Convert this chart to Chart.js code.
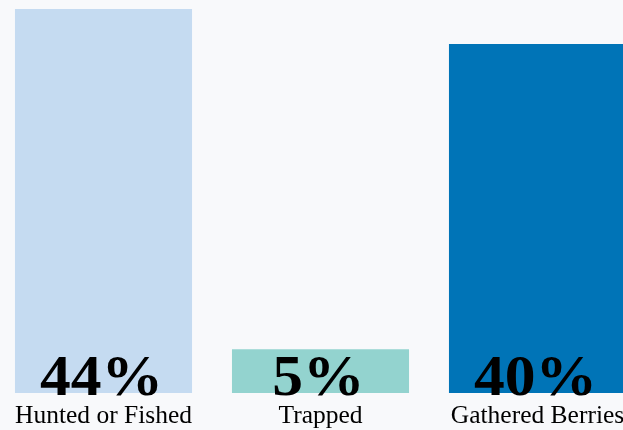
<!DOCTYPE html>
<html>
<head>
<meta charset="utf-8">
<script src="https://cdn.jsdelivr.net/npm/chart.js@4/dist/chart.umd.min.js"></script>
<style>
	html, body { margin: 0; padding: 0; background: #f8f9fb; overflow: hidden; width: 623px; height: 430px; }
	#chart { position: absolute; left: -5px; top: 0; }
</style>
</head>
<body>
<canvas id="chart" width="651" height="430"></canvas>
<script>
const categories = ['Hunted or Fished', 'Trapped', 'Gathered Berries'];
const values = [44, 5, 40];
const colors = ['#c5dbf1', '#93d3cf', '#0074b7'];

// big percent labels sitting on the bottom of each bar
const percentLabels = {
	id: 'percentLabels',
	afterDatasetsDraw(chart) {
		const ctx = chart.ctx;
		const meta = chart.getDatasetMeta(0);
		ctx.save();
		ctx.fillStyle = '#000';
		ctx.textAlign = 'center';
		ctx.textBaseline = 'alphabetic';
		ctx.font = 'bold 57px "Liberation Serif"';
		meta.data.forEach(function(bar, i) {
			ctx.save();
			ctx.translate(bar.x - 2, bar.base + 2);
			ctx.scale(1.08, 1);
			ctx.fillText(values[i] + '%', 0, 0);
			ctx.restore();
		});
		ctx.restore();
	}
};

const ctx = document.getElementById('chart').getContext('2d');
const chart = new Chart(ctx, {
	type: 'bar',
	data: {
		labels: categories,
		datasets: [{
			data: values,
			backgroundColor: colors,
			borderWidth: 0,
			categoryPercentage: 1,
			barPercentage: 0.816
		}]
	},
	options: {
		responsive: false,
		animation: false,
		layout: { padding: { top: 9, left: 0, right: 0, bottom: 0 } },
		plugins: {
			legend: { display: false },
			tooltip: { enabled: false }
		},
		scales: {
			x: {
				grid: { display: false },
				border: { display: false },
				ticks: {
					color: '#000',
					font: { family: 'Liberation Serif', size: 25.5 },
					padding: 0,
					maxRotation: 0
				},
				afterFit: function(scale) { scale.height = 37; }
			},
			y: {
				display: false,
				min: 0,
				max: 44
			}
		}
	},
	plugins: [percentLabels]
});
</script>
</body>
</html>
